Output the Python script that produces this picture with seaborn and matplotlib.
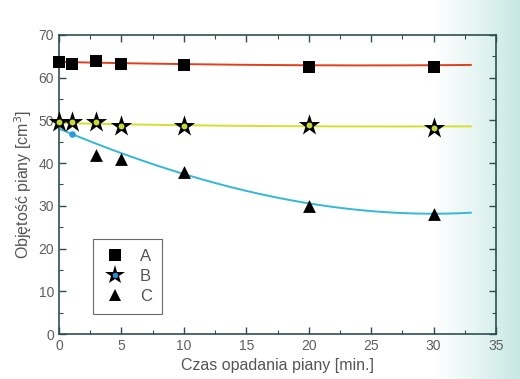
import numpy as np
import pandas as pd
import matplotlib
matplotlib.use("Agg")
import matplotlib.pyplot as plt
from matplotlib.lines import Line2D
from matplotlib.ticker import MultipleLocator
import seaborn as sns

# Data
time_a = [0, 1, 3, 5, 10, 20, 30]
vol_a = [63.6, 63.1, 63.9, 63.1, 62.9, 62.4, 62.4]
time_b = [0, 1, 3, 5, 10, 20, 30]
vol_b = [49.7, 49.7, 49.6, 48.7, 48.7, 48.9, 48.3]
time_c = [0, 1, 3, 5, 10, 20, 30]
vol_c = [48.0, 46.8, 41.9, 41.0, 37.9, 30.0, 28.1]
series_names = ["A", "B", "C"]

# Fitted curves
fit_x = [0, 1, 5, 10, 15, 20, 25, 30, 33]
fit_a = [63.7, 63.6, 63.4, 63.2, 63.0, 62.9, 62.9, 62.9, 63.0]
fit_b = [49.4, 49.3, 49.1, 48.9, 48.7, 48.6, 48.6, 48.6, 48.6]
fit_c = [48.0, 46.8, 42.6, 37.3, 33.4, 30.6, 28.9, 28.1, 28.4]

sns.set_theme(style="ticks")
plt.rcParams["font.family"] = ["Liberation Sans", "DejaVu Sans"]

fig = plt.figure(figsize=(5.2, 3.79), dpi=100)
# scan tint on right edge
bg = fig.add_axes([0, 0, 1, 1], zorder=-10)
grad = np.linspace(0, 1, 400)
grad = np.clip((grad - 0.83) / 0.17, 0, 1) ** 1.2
img = np.ones((2, 400, 3))
tint = np.array([0.78, 0.91, 0.89])
img[:, :, :] = (1 - grad[None, :, None]) * 1.0 + grad[None, :, None] * tint
bg.imshow(img, aspect="auto", extent=[0, 1, 0, 1])
bg.axis("off")

ax = fig.add_axes([0.1135, 0.1187, 0.8405, 0.789])
ax.patch.set_alpha(0)

def smooth(xs, ys):
    xx = np.linspace(min(xs), max(xs), 200)
    coef = np.polyfit(xs, ys, 3)
    return xx, np.polyval(coef, xx)

cols = {"A": "#e0401c", "B": "#d6df2c", "C": "#33b8d6"}
for name, fy in zip(series_names, [fit_a, fit_b, fit_c]):
    xx, yy = smooth(fit_x, fy)
    sns.lineplot(x=xx, y=yy, ax=ax, color=cols[name], lw=1.4, zorder=2)

kw = dict(ax=ax, color="black", edgecolor="black", zorder=4, clip_on=False, legend=False)
sns.scatterplot(x=time_a, y=vol_a, marker="s", s=80, linewidth=0, **kw)
sns.scatterplot(x=time_b, y=vol_b, marker="*", s=260, linewidth=0, **kw)
sns.scatterplot(x=time_b, y=vol_b, marker="o", s=18, ax=ax, color="#c8d83a",
                edgecolor="#c8d83a", linewidth=0, zorder=5, clip_on=False,
                legend=False)
sns.scatterplot(x=time_c[2:], y=vol_c[2:], marker="^", s=85, linewidth=0, **kw)
sns.scatterplot(x=time_c[1:2], y=vol_c[1:2], marker="o", s=22, ax=ax,
                color="#2a9ae0", edgecolor="#2a9ae0", linewidth=0, zorder=5,
                legend=False)

ax.set_xlim(0, 35)
ax.set_ylim(0, 70)
ax.xaxis.set_major_locator(MultipleLocator(5))
ax.xaxis.set_minor_locator(MultipleLocator(2.5))
ax.yaxis.set_major_locator(MultipleLocator(10))
ax.yaxis.set_minor_locator(MultipleLocator(5))
ax.tick_params(which="both", direction="in", top=True, right=True,
               colors="#2f4f4f", labelcolor="#606060", labelsize=10)
ax.tick_params(which="major", length=5, width=1)
ax.tick_params(which="minor", length=3, width=0.8)
for sp in ax.spines.values():
    sp.set_visible(True)
    sp.set_color("#2f4f4f")
    sp.set_linewidth(1.2)

ax.set_xlabel("Czas opadania piany [min.]", fontsize=11.5, color="#555555", labelpad=4)
ax.set_ylabel("Objętość piany [cm$^3$]", fontsize=11.5, color="#555555", labelpad=3)

h_a = Line2D([], [], ls="", marker="s", ms=9, color="black", mew=0)
h_b1 = Line2D([], [], ls="", marker="*", ms=15, color="black", mew=0)
h_b2 = Line2D([], [], ls="", marker="o", ms=4, color="#2a8ed0", mew=0)
h_c = Line2D([], [], ls="", marker="^", ms=9, color="black", mew=0)
leg = ax.legend([h_a, (h_b1, h_b2), h_c], series_names, loc="lower left",
                bbox_to_anchor=(0.078, 0.067), borderaxespad=0, frameon=True,
                fancybox=False, edgecolor="#444444", fontsize=12,
                handletextpad=0.8, borderpad=0.6, labelspacing=0.3,
                handlelength=1.4)
for t in leg.get_texts():
    t.set_color("#555555")
leg.get_frame().set_linewidth(0.8)

fig.savefig("out.png", dpi=100)
